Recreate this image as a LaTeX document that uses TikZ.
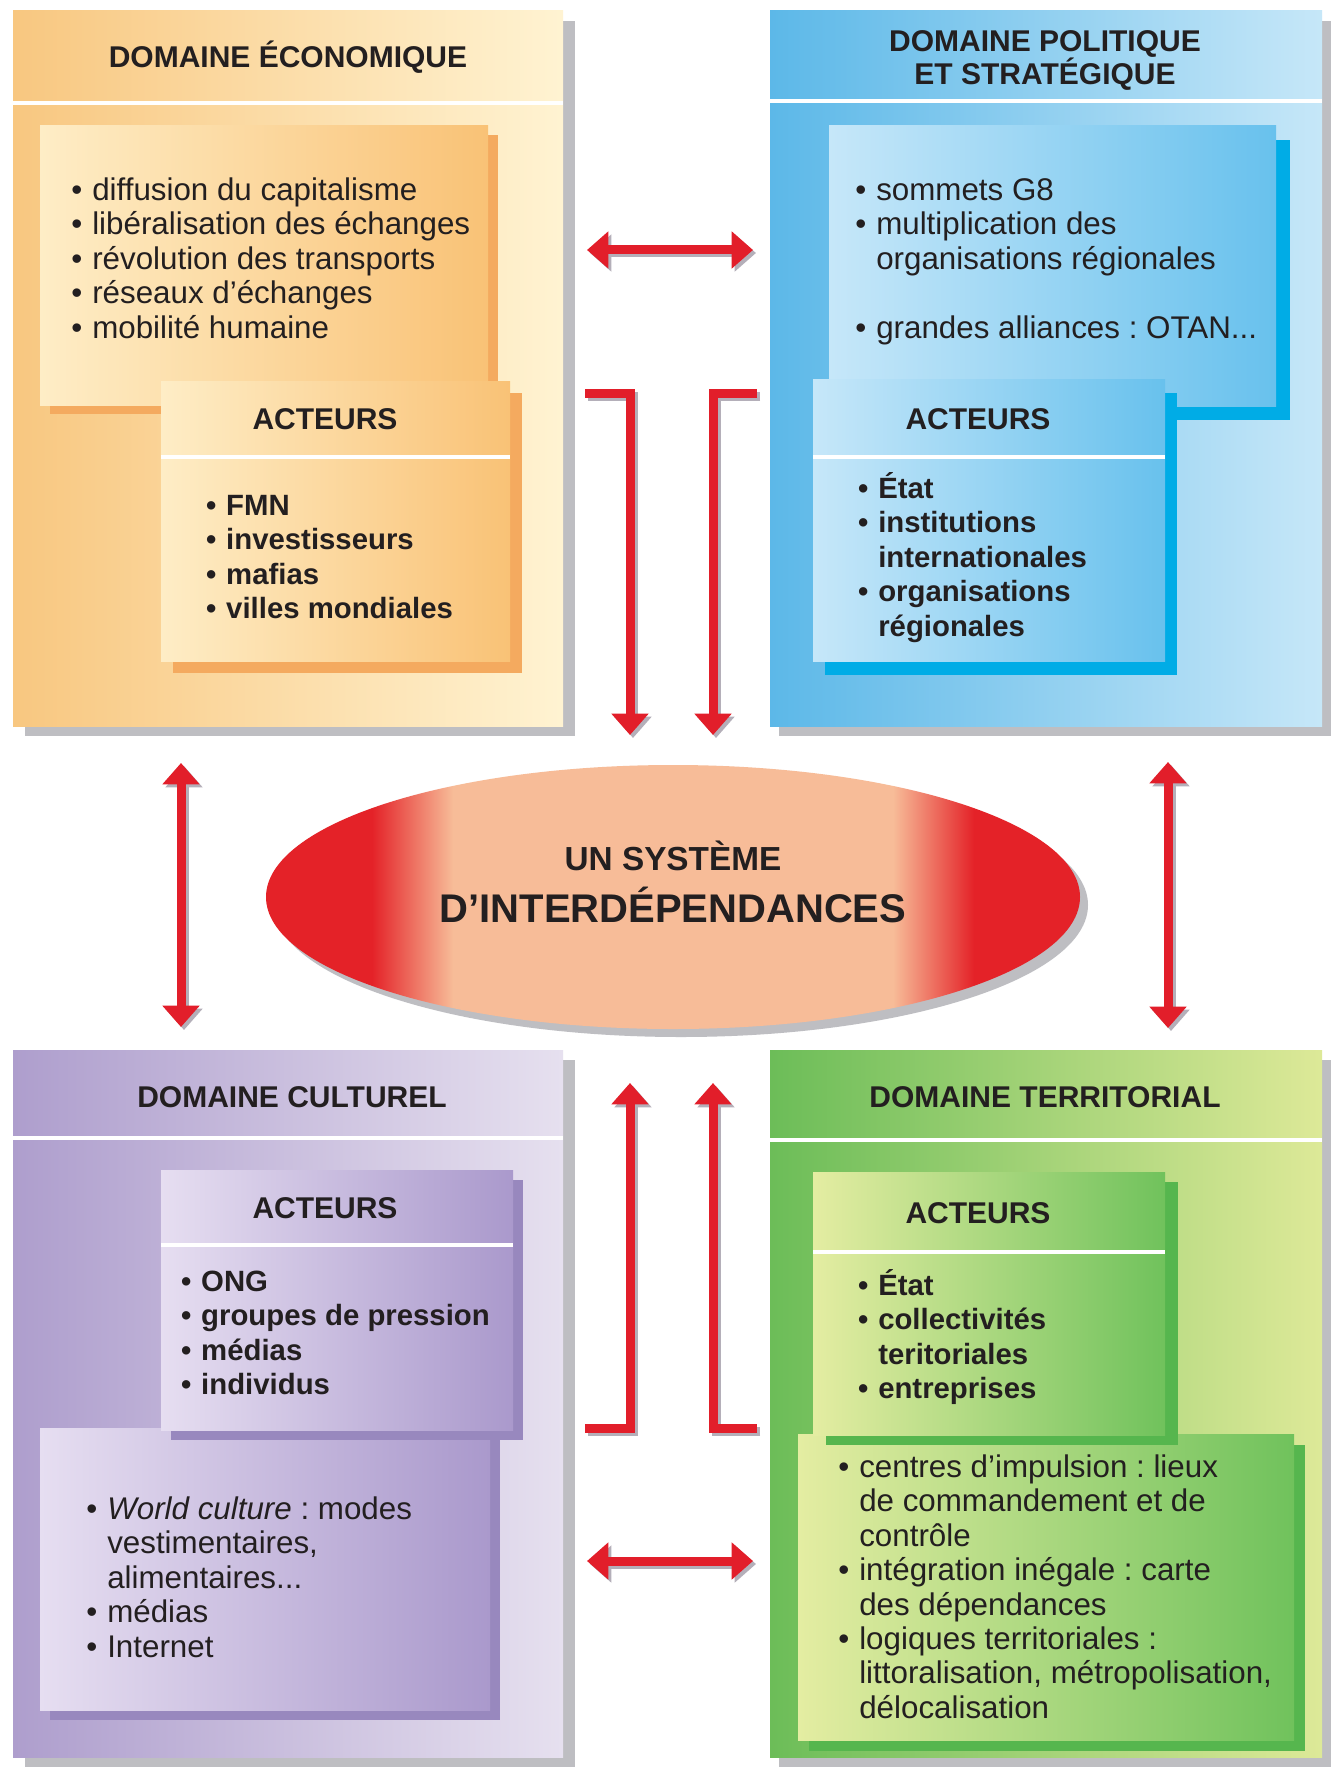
\documentclass[tikz,border=0pt]{standalone}
\usepackage{fontspec}
\setmainfont{Liberation Sans}
\usetikzlibrary{shapes.geometric,arrows.meta,calc,fit}

\definecolor{txt}{RGB}{35,31,32}
\definecolor{ared}{RGB}{226,30,42}
\definecolor{ashadow}{RGB}{180,175,185}
\definecolor{bshadow}{RGB}{190,190,194}
\definecolor{ecoL}{RGB}{248,199,128}
\definecolor{ecoR}{RGB}{255,243,210}
\definecolor{ecoiL}{RGB}{254,237,198}
\definecolor{ecoiR}{RGB}{249,194,118}
\definecolor{ecoS}{RGB}{244,170,95}
\definecolor{polL}{RGB}{92,184,232}
\definecolor{polR}{RGB}{198,231,248}
\definecolor{poliL}{RGB}{198,231,249}
\definecolor{poliR}{RGB}{104,193,237}
\definecolor{polS}{RGB}{0,172,230}
\definecolor{culL}{RGB}{174,158,205}
\definecolor{culR}{RGB}{230,224,239}
\definecolor{culiL}{RGB}{230,222,241}
\definecolor{culiR}{RGB}{170,153,204}
\definecolor{culS}{RGB}{152,136,190}
\definecolor{terL}{RGB}{108,189,88}
\definecolor{terR}{RGB}{221,233,152}
\definecolor{teriL}{RGB}{228,237,162}
\definecolor{teriR}{RGB}{112,194,92}
\definecolor{terS}{RGB}{86,182,78}
\definecolor{ered}{RGB}{228,34,40}
\definecolor{epeach}{RGB}{247,188,152}

\pgfdeclarehorizontalshading{ellsh}{100bp}{color(0bp)=(ered); color(31.5bp)=(ered); color(36.5bp)=(epeach); color(63.5bp)=(epeach); color(68.5bp)=(ered); color(100bp)=(ered)}

\frenchspacing
\newcommand\hdrfont{\fontsize{22.5pt}{25.8pt}\selectfont\bfseries}
\newcommand\itmfont{\fontsize{23.5pt}{25.8pt}\selectfont}
\newcommand\itbfont{\fontsize{22pt}{25.8pt}\selectfont\bfseries}
\newcommand\bl{\llap{•\hspace{7.5pt}}}
\newcommand\tdots{...}

% name, x1, y1, x2, y2, shadow shift, shadow colour, left colour, right colour
\newcommand\dombox[9]{%
  \fill[#7] ($(#2,#3)+(#6)$) rectangle ($(#4,#5)+(#6)$);
  \node[fit={(#2,#3) (#4,#5)}, inner sep=0pt, outer sep=0pt, left color=#8, right color=#9] (#1) {};}

% name prefix, x, first y, style, list
\newcommand\itemlines[5]{%
  \foreach \t [count=\i] in {#5} {\node[#4] (#1\i) at (#2, {#3+(\i-1)*34.4}) {\t};}}

\begin{document}
\begin{tikzpicture}[x=0.75pt,y=-0.75pt,
  hdr/.style={font=\hdrfont, anchor=base, text=txt, inner sep=0pt},
  itm/.style={font=\itmfont, anchor=mid west, text=txt, inner sep=0pt},
  itb/.style={font=\itbfont, anchor=mid west, text=txt, inner sep=0pt},
  sepline/.style={draw=white, line width=2.5pt},
  arr/.style={draw=ared, line width=6.75pt, line join=miter},
  tip/.style={-{Triangle[width=27pt,length=16pt]}},
  tips/.style={{Triangle[width=27pt,length=16pt]}-{Triangle[width=27pt,length=16pt]}},
  ash/.style={draw=ashadow, transform canvas={shift={(3,3)}}}]

\useasboundingbox (0,0) rectangle (1331,1769);
\fill[white] (0,0) rectangle (1331,1769);

% ===== ECONOMIQUE =====
\dombox{eco}{13}{11}{563}{726}{12,10}{bshadow}{ecoL}{ecoR}
\draw[sepline] (13,103) -- (563,103);
\node[hdr] (ecoh) at (288,68) {DOMAINE ÉCONOMIQUE};
\dombox{ecoin}{40}{126}{488}{405}{10,9}{ecoS}{ecoiL}{ecoiR}
\itemlines{ecol}{92}{197}{itm}{\bl diffusion du capitalisme, \bl libéralisation des échanges, \bl révolution des transports, \bl réseaux d'échanges, \bl mobilité humaine}
\dombox{ecoact}{161}{381}{510}{661}{12,12}{ecoS}{ecoiL}{ecoiR}
\draw[sepline] (161,457) -- (510,457);
\node[hdr] (ecoah) at (325,429) {ACTEURS};
\itemlines{ecoa}{226}{512}{itb}{\bl FMN, \bl investisseurs, \bl mafias, \bl villes mondiales}

% ===== POLITIQUE =====
\dombox{pol}{770}{11}{1322}{726}{9,10}{bshadow}{polL}{polR}
\draw[sepline] (770,101) -- (1322,101);
\node[hdr] (polh1) at (1045,52) {DOMAINE POLITIQUE};
\node[hdr] (polh2) at (1045,85) {ET STRATÉGIQUE};
\dombox{polin}{829}{126}{1276}{406}{14,14}{polS}{poliL}{poliR}
\itemlines{poll}{876}{197}{itm}{\bl sommets G8, \bl multiplication des, organisations régionales}
\node[itm] (poll4) at (876,335) {\bl grandes alliances : OTAN\tdots};
\dombox{polact}{813}{379}{1165}{661}{12,14}{polS}{poliL}{poliR}
\draw[sepline] (813,457) -- (1165,457);
\node[hdr] (polah) at (978,429) {ACTEURS};
\itemlines{pola}{878}{495}{itb}{\bl État, \bl institutions, internationales, \bl organisations, régionales}

% ===== CULTUREL =====
\dombox{cul}{13}{1050}{563}{1757}{12,10}{bshadow}{culL}{culR}
\draw[sepline] (13,1138) -- (563,1138);
\node[hdr] (culh) at (292,1107) {DOMAINE CULTUREL};
\dombox{culin}{40}{1428}{490}{1710}{10,10}{culS}{culiL}{culiR}
\itemlines{cull}{107}{1516}{itm}{{\bl \textit{World culture} : modes}, {vestimentaires,}, {alimentaires\tdots}, {\bl médias}, {\bl Internet}}
\dombox{culact}{161}{1170}{513}{1430}{10,10}{culS}{culiL}{culiR}
\draw[sepline] (161,1245) -- (513,1245);
\node[hdr] (culah) at (325,1218) {ACTEURS};
\itemlines{cula}{201}{1288}{itb}{\bl ONG, \bl groupes de pression, \bl médias, \bl individus}

% ===== TERRITORIAL =====
\dombox{ter}{770}{1050}{1322}{1757}{9,10}{bshadow}{terL}{terR}
\draw[sepline] (770,1140) -- (1322,1140);
\node[hdr] (terh) at (1045,1107) {DOMAINE TERRITORIAL};
\dombox{terin}{798}{1434}{1294}{1740}{11,11}{terS}{teriL}{teriR}
\itemlines{terl}{859}{1474}{itm}{\bl centres d’impulsion : lieux, de commandement et de, contrôle, \bl intégration inégale : carte, des dépendances, \bl logiques territoriales :, {littoralisation, métropolisation,}, délocalisation}
\dombox{teract}{813}{1172}{1165}{1435}{13,10}{terS}{teriL}{teriR}
\draw[sepline] (813,1252) -- (1165,1252);
\node[hdr] (terah) at (978,1223) {ACTEURS};
\itemlines{tera}{878}{1292}{itb}{\bl État, \bl collectivités, teritoriales, \bl entreprises}

% ===== CENTRE =====
\node[ellipse, fill=bshadow, minimum width=814*0.75pt, minimum height=264*0.75pt, inner sep=0pt] (sysshadow) at (681,905) {};
\node[ellipse, shade, shading=ellsh, minimum width=814*0.75pt, minimum height=264*0.75pt, inner sep=0pt] (sys) at (673,897) {};
\node[font=\fontsize{25pt}{30pt}\selectfont\bfseries, anchor=base, text=txt, inner sep=0pt] (sys1) at (673,870) {UN SYSTÈME};
\node[font=\fontsize{30pt}{34pt}\selectfont\bfseries, anchor=base, text=txt, inner sep=0pt] (sys2) at (673,922) {D’INTERDÉPENDANCES};

% ===== ARROWS =====
\coordinate (h1a) at (587,250);  \coordinate (h1b) at (753,250);
\coordinate (b1s) at (585,393);  \coordinate (b1c) at (630,393);  \coordinate (b1e) at (630,735);
\coordinate (b2s) at (757,393);  \coordinate (b2c) at (713,393);  \coordinate (b2e) at (713,735);
\coordinate (b3s) at (585,1428); \coordinate (b3c) at (630,1428); \coordinate (b3e) at (630,1083);
\coordinate (b4s) at (757,1428); \coordinate (b4c) at (713,1428); \coordinate (b4e) at (713,1083);
\coordinate (h2a) at (587,1561); \coordinate (h2b) at (753,1561);
\coordinate (v1a) at (181,763);  \coordinate (v1b) at (181,1027);
\coordinate (v2a) at (1168,762); \coordinate (v2b) at (1168,1028);

\foreach \p/\q in {h1a/h1b, h2a/h2b, v1a/v1b, v2a/v2b} {
  \draw[arr,tips,ash] (\p) -- (\q);
  \draw[arr,tips] (\p) -- (\q);
}
\foreach \s/\c/\e in {b1s/b1c/b1e, b2s/b2c/b2e, b3s/b3c/b3e, b4s/b4c/b4e} {
  \draw[arr,tip,ash] (\s) -- (\c) -- (\e);
  \draw[arr,tip] (\s) -- (\c) -- (\e);
}
\end{tikzpicture}
\end{document}
